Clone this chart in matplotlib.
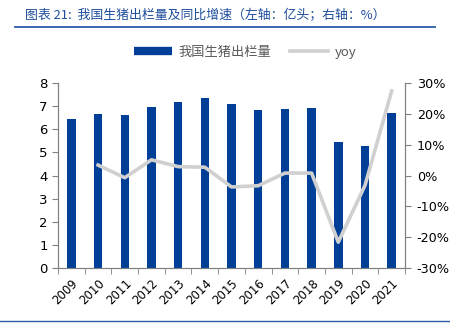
import numpy as np
import matplotlib.pyplot as plt
from matplotlib.lines import Line2D

plt.rcParams['font.family'] = ['DejaVu Sans', 'Noto Sans CJK SC']

years = ['2009', '2010', '2011', '2012', '2013', '2014', '2015',
         '2016', '2017', '2018', '2019', '2020', '2021']
hogs = [6.45, 6.67, 6.62, 6.96, 7.16, 7.35, 7.08, 6.85, 6.89, 6.94, 5.44, 5.27, 6.71]
yoy_years = years[1:]
yoy = [3.4, -0.7, 5.1, 2.9, 2.7, -3.7, -3.3, 0.8, 0.8, -21.6, -3.2, 27.4]

bar_color = '#003f98'
line_color = '#d0d0d0'
spine_color = '#808080'

fig = plt.figure(figsize=(4.5, 3.23), dpi=100)
ax = fig.add_axes([0.129, 0.170, 0.771, 0.573])
x = np.arange(len(years))
ax.bar(x, hogs, width=0.32, color=bar_color, zorder=2)
ax.set_xlim(-0.5, len(years) - 0.5)
ax.set_ylim(0, 8)
ax.set_yticks(range(0, 9))
ax.set_xticks(x)
ax.set_xticklabels(years, rotation=45, ha='right', va='top', rotation_mode='anchor', fontsize=8.5)
ax.set_xticks(np.arange(-0.5, len(years)), minor=True)
ax.tick_params(axis='x', which='major', length=0, pad=6)
ax.tick_params(axis='x', which='minor', length=4, color=spine_color)
ax.tick_params(axis='y', length=4, color=spine_color, labelsize=9.5)

# yoy growth on the right axis
ax2 = ax.twinx()
xi = [years.index(y) for y in yoy_years]
ax2.plot(xi, yoy, color=line_color, lw=2.6, solid_joinstyle='round', zorder=3)
ax2.set_ylim(-30, 30)
ax2.set_yticks(range(-30, 31, 10))
ax2.set_yticklabels([f'{v}%' for v in range(-30, 31, 10)])
ax2.tick_params(axis='y', length=4, pad=4.5, color=spine_color, labelsize=9.2)

for a in (ax, ax2):
    a.spines['top'].set_visible(False)
    for s in ('left', 'right', 'bottom'):
        a.spines[s].set_color(spine_color)

handles = [Line2D([], [], color=bar_color, lw=6, solid_capstyle='butt'),
           Line2D([], [], color=line_color, lw=2.6)]
fig.legend(handles, ['我国生猪出栏量', 'yoy'], loc='center', bbox_to_anchor=(0.545, 0.838),
           ncol=2, frameon=False, handlelength=2.9, handletextpad=0.5,
           columnspacing=1.4, labelcolor='#595959',
           prop={'family': ['Noto Sans CJK SC', 'DejaVu Sans'], 'size': 9.5})

fig.text(0.056, 0.953, '图表 21:  我国生猪出栏量及同比增速（左轴：亿头；右轴：%）',
         color='#1f4e9c', fontsize=9.3, style='italic', va='center',
         family=['Noto Sans CJK SC', 'DejaVu Sans'])
fig.add_artist(Line2D([0.033, 0.967], [0.915, 0.915], color='#2a5caa', lw=1.3))
fig.add_artist(Line2D([0.0, 1.0], [0.005, 0.005], color='#2a5caa', lw=1.0))

fig.savefig('out.png', dpi=100)
